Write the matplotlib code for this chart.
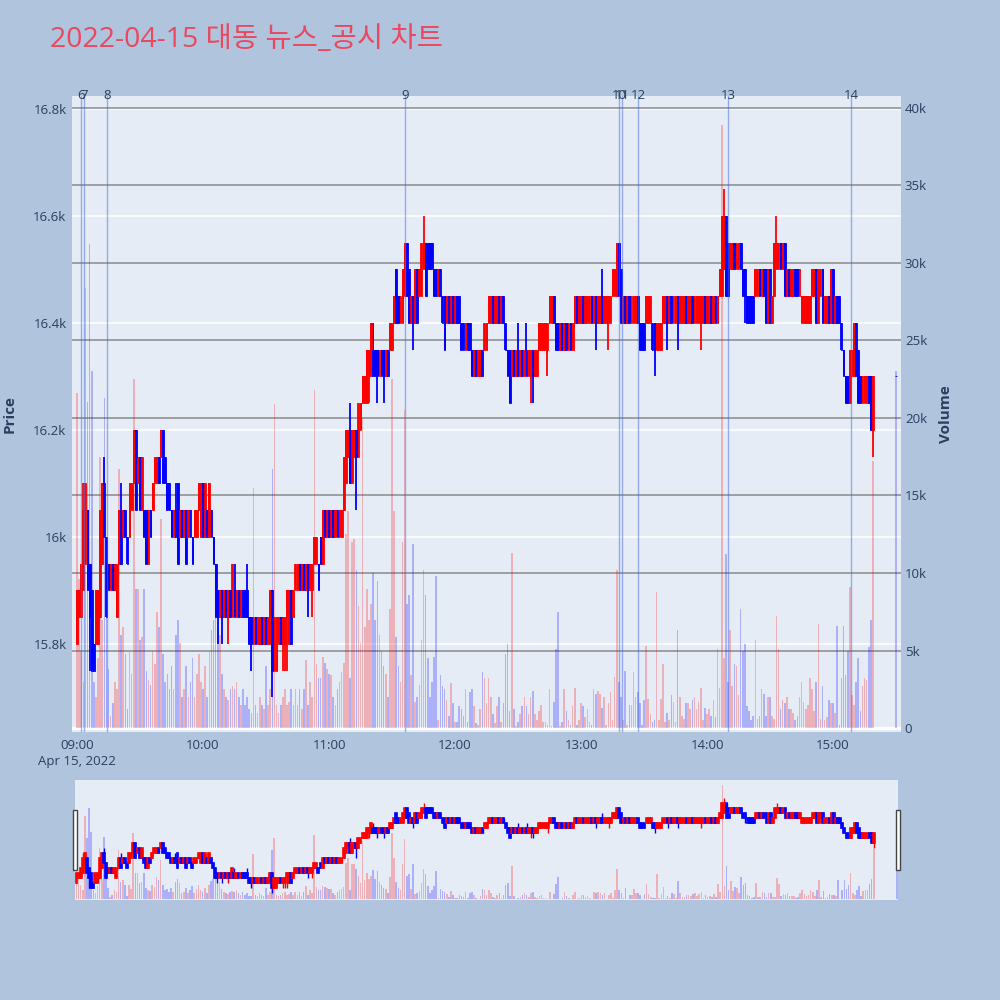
import numpy as np
import matplotlib
matplotlib.use("Agg")
import matplotlib.pyplot as plt
from matplotlib.patches import Rectangle
import matplotlib.transforms as mtransforms

# ---------------- data ----------------
title = "2022-04-15 대동 뉴스_공시 차트"
date_label = "Apr 15, 2022"
time_ticks = ["09:00", "10:00", "11:00", "12:00", "13:00", "14:00", "15:00"]
session_start = "09:00"
closing_auction_time = "15:30"

opens = [
    15800, 15850, 15850, 15900, 15950, 16050, 15950, 15900, 15800, 15800,
    15800, 15850, 15950, 16100, 16000, 15950, 15900, 15950, 15900, 15850,
    15950, 16050, 16000, 16050, 16000, 16000, 16050, 16100, 16200, 16100,
    16150, 16050, 16050, 16050, 15950, 16050, 16050, 16100, 16100, 16150,
    16150, 16200, 16150, 16100, 16100, 16050, 16000, 16050, 16100, 16000,
    16050, 16000, 16050, 16000, 16050, 16000, 16000, 16000, 16050, 16000,
    16100, 16000, 16050, 16000, 16050, 16000, 15950, 15900, 15850, 15900,
    15850, 15900, 15850, 15900, 15850, 15900, 15850, 15900, 15850, 15900,
    15900, 15900, 15850, 15850, 15800, 15850, 15800, 15800, 15850, 15800,
    15850, 15800, 15800, 15900, 15750, 15750, 15800, 15850, 15800, 15800,
    15850, 15800, 15900, 15850, 15900, 15900, 15950, 15900, 15950, 15900,
    15950, 15900, 15900, 15950, 15950, 15950, 16000, 15950, 16050, 16000,
    16050, 16000, 16050, 16000, 16050, 16000, 16000, 16050, 16100, 16150,
    16200, 16100, 16150, 16200, 16150, 16200, 16250, 16250, 16250, 16300,
    16300, 16350, 16350, 16350, 16300, 16350, 16350, 16300, 16350, 16350,
    16350, 16400, 16500, 16450, 16400, 16400, 16450, 16550, 16500, 16400,
    16450, 16400, 16500, 16450, 16450, 16500, 16550, 16550, 16550, 16550,
    16500, 16500, 16450, 16500, 16450, 16450, 16400, 16450, 16400, 16450,
    16400, 16450, 16450, 16400, 16400, 16350, 16400, 16400, 16350, 16300,
    16350, 16300, 16300, 16350, 16350, 16350, 16400, 16400, 16450, 16400,
    16400, 16450, 16400, 16450, 16400, 16350, 16350, 16300, 16350, 16300,
    16350, 16300, 16350, 16300, 16350, 16300, 16300, 16350, 16300, 16300,
    16350, 16350, 16350, 16350, 16350, 16400, 16400, 16450, 16400, 16400,
    16350, 16400, 16350, 16400, 16350, 16400, 16350, 16400, 16450, 16400,
    16400, 16450, 16400, 16400, 16400, 16450, 16400, 16450, 16400, 16400,
    16450, 16400, 16400, 16400, 16400, 16450, 16450, 16450, 16550, 16500,
    16400, 16450, 16400, 16450, 16400, 16400, 16400, 16450, 16400, 16400,
    16400, 16400, 16400, 16400, 16400, 16400, 16350, 16350, 16350, 16400,
    16400, 16450, 16400, 16450, 16400, 16400, 16450, 16400, 16400, 16400,
    16450, 16400, 16400, 16450, 16400, 16400, 16400, 16400, 16400, 16450,
    16400, 16400, 16450, 16400, 16450, 16400, 16450, 16450, 16500, 16600,
    16550, 16500, 16500, 16550, 16500, 16500, 16550, 16500, 16500, 16450,
    16450, 16450, 16450, 16450, 16450, 16500, 16450, 16500, 16500, 16400,
    16500, 16400, 16450, 16500, 16500, 16550, 16500, 16550, 16450, 16500,
    16450, 16450, 16500, 16500, 16450, 16400, 16400, 16400, 16400, 16400,
    16450, 16450, 16500, 16400, 16450, 16500, 16400, 16400, 16450, 16400,
    16500, 16400, 16450, 16450, 16400, 16350, 16300, 16300, 16250, 16300,
    16300, 16400, 16350, 16300, 16250, 16250, 16250, 16300, 16300, 16200,
    16300,
]
closes = [
    15900, 15900, 15950, 16050, 16100, 15900, 15850, 15750, 15750, 15900,
    15900, 16050, 16100, 16000, 15850, 15900, 15950, 15900, 15950, 15950,
    16050, 15950, 16050, 16000, 15950, 16100, 16100, 16200, 16050, 16150,
    16050, 16150, 16000, 15950, 16050, 16000, 16100, 16150, 16150, 16100,
    16200, 16100, 16100, 16050, 16050, 16000, 16050, 16000, 15950, 16050,
    16000, 16050, 15950, 16050, 16000, 15950, 16050, 16050, 16100, 16100,
    16000, 16100, 16000, 16100, 16000, 15950, 15850, 15850, 15900, 15850,
    15900, 15850, 15900, 15850, 15950, 15850, 15900, 15850, 15900, 15850,
    15850, 15850, 15800, 15800, 15850, 15800, 15850, 15850, 15800, 15850,
    15800, 15850, 15900, 15750, 15850, 15850, 15850, 15800, 15850, 15850,
    15900, 15900, 15800, 15900, 15950, 15950, 15900, 15950, 15900, 15950,
    15900, 15950, 15950, 16000, 16000, 15900, 15950, 16050, 16000, 16050,
    16000, 16050, 16000, 16050, 16000, 16050, 16050, 16150, 16200, 16200,
    16100, 16200, 16200, 16150, 16250, 16250, 16300, 16300, 16350, 16350,
    16400, 16300, 16300, 16300, 16350, 16300, 16300, 16350, 16300, 16400,
    16400, 16450, 16400, 16400, 16450, 16500, 16550, 16450, 16400, 16450,
    16400, 16500, 16400, 16500, 16550, 16550, 16450, 16500, 16500, 16500,
    16450, 16450, 16500, 16450, 16400, 16350, 16450, 16400, 16450, 16400,
    16450, 16400, 16400, 16350, 16350, 16400, 16350, 16350, 16300, 16350,
    16300, 16350, 16350, 16300, 16400, 16400, 16450, 16450, 16400, 16450,
    16450, 16400, 16450, 16400, 16350, 16300, 16250, 16350, 16300, 16350,
    16300, 16350, 16300, 16350, 16300, 16350, 16350, 16300, 16350, 16350,
    16400, 16400, 16400, 16400, 16400, 16450, 16450, 16400, 16350, 16350,
    16400, 16350, 16400, 16350, 16400, 16350, 16400, 16450, 16400, 16450,
    16450, 16400, 16450, 16450, 16450, 16400, 16450, 16400, 16450, 16450,
    16400, 16450, 16450, 16450, 16450, 16500, 16500, 16550, 16450, 16400,
    16450, 16400, 16450, 16400, 16450, 16450, 16450, 16400, 16350, 16350,
    16350, 16450, 16450, 16450, 16350, 16350, 16400, 16400, 16400, 16450,
    16450, 16400, 16450, 16400, 16450, 16450, 16400, 16450, 16450, 16450,
    16400, 16450, 16450, 16400, 16450, 16450, 16450, 16450, 16450, 16400,
    16450, 16450, 16400, 16450, 16400, 16450, 16500, 16600, 16600, 16450,
    16450, 16550, 16550, 16500, 16550, 16550, 16500, 16450, 16450, 16400,
    16400, 16400, 16400, 16500, 16500, 16450, 16500, 16450, 16400, 16500,
    16400, 16450, 16550, 16550, 16550, 16500, 16550, 16450, 16500, 16450,
    16500, 16500, 16450, 16450, 16500, 16450, 16450, 16450, 16450, 16450,
    16500, 16500, 16400, 16500, 16500, 16400, 16450, 16450, 16400, 16500,
    16400, 16450, 16400, 16400, 16350, 16300, 16250, 16250, 16350, 16350,
    16400, 16300, 16250, 16250, 16300, 16300, 16300, 16250, 16200, 16300,
    16300,
]
wick_high = {3: 16100, 13: 16150, 21: 16100, 47: 16100, 75: 15950, 81: 15950,
             130: 16250, 141: 16400, 165: 16600, 210: 16400, 214: 16400,
             250: 16500, 308: 16650, 333: 16600}
wick_low = {6: 15750, 67: 15800, 69: 15800, 72: 15800, 83: 15750, 93: 15700,
            98: 15750, 99: 15750, 100: 15750, 110: 15850, 112: 15850,
            133: 16050, 139: 16250, 143: 16250, 146: 16250, 160: 16350,
            216: 16250, 217: 16250, 224: 16300, 247: 16350, 253: 16350,
            275: 16300, 281: 16350, 286: 16350, 297: 16350, 318: 16400,
            379: 16150}
volumes = [
    21600, 9600, 5000, 3000, 28400, 21000, 31200, 23000, 3000, 2000,
    4500, 17500, 7000, 21300, 8500, 3800, 800, 1600, 3000, 2500,
    16700, 6000, 6500, 4800, 1200, 4900, 3500, 22500, 9000, 9000,
    5700, 5900, 9000, 3700, 3100, 2800, 5000, 4100, 7500, 6500,
    13500, 4800, 3000, 3500, 2500, 4000, 2500, 6000, 7000, 5500,
    2000, 2500, 4000, 2000, 3000, 4500, 2000, 3500, 4800, 3000,
    2500, 4000, 2000, 5000, 6300, 7000, 8500, 6500, 6000, 3500,
    2500, 2000, 1800, 2500, 2700, 2500, 3000, 2000, 1500, 2500,
    1500, 2000, 1200, 1000, 15500, 1500, 1000, 2000, 1500, 1200,
    4000, 1500, 2500, 16700, 20900, 1500, 1000, 1500, 2000, 2500,
    1500, 1700, 2500, 1500, 2500, 1500, 2500, 1200, 2500, 4400,
    1500, 3000, 2000, 21800, 4100, 3200, 3200, 4600, 4200, 3800,
    3500, 3400, 2000, 1500, 2500, 3000, 3600, 4200, 12500, 14000,
    3200, 12000, 12200, 10200, 7900, 5500, 20000, 6500, 9000, 7000,
    8000, 10000, 7000, 9500, 6000, 5000, 4000, 3500, 2000, 7700,
    22500, 14000, 5900, 4000, 3000, 12000, 20500, 8000, 8600, 3400,
    11900, 1700, 2000, 2800, 5700, 10200, 8600, 4500, 2000, 3000,
    4600, 9800, 500, 3400, 2700, 2500, 1800, 800, 2900, 1600,
    400, 400, 1400, 1200, 800, 2500, 400, 2300, 2500, 1400,
    300, 200, 1200, 3600, 3200, 1600, 3200, 2000, 900, 300,
    1400, 2000, 400, 1600, 4800, 5400, 1100, 11300, 1200, 100,
    400, 900, 1400, 2000, 1400, 900, 2000, 2400, 900, 500,
    1100, 1500, 400, 400, 200, 2500, 100, 1700, 5100, 7500,
    100, 400, 2500, 1100, 500, 200, 1400, 2600, 200, 500,
    1600, 1400, 700, 1200, 400, 200, 2500, 2200, 2400, 2200,
    1300, 2000, 200, 1600, 2300, 500, 3300, 10200, 3000, 2000,
    500, 3700, 200, 1500, 1500, 3600, 2000, 2300, 1600, 200,
    1800, 5300, 1900, 900, 400, 500, 8800, 500, 1900, 4100,
    400, 1000, 500, 2100, 1700, 400, 6300, 2000, 800, 600,
    1600, 1600, 1200, 1800, 2000, 1200, 1700, 2600, 500, 1300,
    900, 1200, 800, 1800, 700, 5100, 2600, 38900, 4500, 11200,
    3000, 6300, 2700, 4100, 4000, 2100, 7700, 5000, 5400, 1400,
    1100, 500, 800, 5700, 600, 800, 2500, 2200, 800, 2000,
    2000, 800, 600, 7200, 5100, 1200, 1800, 1600, 2000, 1200,
    1200, 1000, 500, 800, 2000, 3000, 1700, 1200, 1500, 3200,
    2500, 1100, 3000, 6700, 600, 2700, 500, 700, 1800, 1600,
    1600, 1000, 6600, 200, 3200, 6600, 3400, 5000, 9100, 2100,
    1500, 3000, 4500, 1100, 2700, 3200, 3100, 5200, 7000, 17200,
    23000,
]
news_ids = ["6", "7", "8", "9", "10", "11", "12", "13", "14"]
news_times = ["09:01:54", "09:03:30", "09:14:24", "11:36:18", "13:18:06",
              "13:19:30", "13:27:06", "14:10:06", "15:08:42"]

price_ticks = [15800, 16000, 16200, 16400, 16600, 16800]
price_tick_labels = ["15.8k", "16k", "16.2k", "16.4k", "16.6k", "16.8k"]
volume_ticks = [0, 5000, 10000, 15000, 20000, 25000, 30000, 35000, 40000]
volume_tick_labels = ["0", "5k", "10k", "15k", "20k", "25k", "30k", "35k", "40k"]


# ---------------- helpers ----------------
def to_min(t):
    parts = [int(p) for p in t.split(":")]
    while len(parts) < 3:
        parts.append(0)
    h0, m0 = [int(p) for p in session_start.split(":")]
    return (parts[0] - h0) * 60 + (parts[1] - m0) + parts[2] / 60.0


n_cont = len(opens) - 1
x = np.array(list(range(n_cont)) + [to_min(closing_auction_time)], dtype=float)
o = np.array(opens, dtype=float)
c = np.array(closes, dtype=float)
hi = np.maximum(o, c)
lo = np.minimum(o, c)
for k, v in wick_high.items():
    hi[k] = max(hi[k], v)
for k, v in wick_low.items():
    lo[k] = min(lo[k], v)
vol = np.array(volumes, dtype=float)
up = c > o
RED, BLUE = "#ff0000", "#0000ff"
cols = np.where(up, RED, BLUE)

TXT = "#2a3f5f"
BG = "#b0c4de"
PBG = "#e5ecf6"
FONT = ["Open Sans", "DejaVu Sans"]
plt.rcParams["font.family"] = FONT

W, H = 1000, 1000
fig = plt.figure(figsize=(10, 10), dpi=100, facecolor=BG)


def rect(l, t, r, b):
    return [l / W, 1 - b / H, (r - l) / W, (b - t) / H]


XLIM = (-2.4, 392.2)
PLIM = (15635.5, 16824.0)
VLIM = (-258, 40774)

# ---- main: volume axes (bottom layer) ----
axv = fig.add_axes(rect(72, 96, 900.7, 732))
axv.set_facecolor(PBG)
axv.set_xlim(*XLIM)
axv.set_ylim(*VLIM)
axp = fig.add_axes(rect(72, 96, 900.7, 732), sharex=axv)
axp.set_facecolor("none")
axp.set_ylim(*PLIM)

# price gridlines (white) drawn underneath everything
tr = mtransforms.blended_transform_factory(axv.transAxes, axp.transData)
for pt in price_ticks:
    axv.plot([0, 1], [pt, pt], transform=tr, color="white", lw=1.1, zorder=0.5)
# volume gridlines (grey), zero line white
for vt in volume_ticks:
    if vt == 0:
        axv.axhline(vt, color="white", lw=2.2, zorder=0.7)
    else:
        axv.axhline(vt, color="#8a8a8a", lw=1.1, zorder=0.6)

axv.bar(x, vol, width=0.75, color=cols, alpha=0.25, linewidth=0, zorder=1)

axp.vlines(x, lo, hi, colors=cols, lw=1.3, zorder=3)
axp.bar(x, c - o, bottom=o, width=0.85, color=cols, edgecolor=cols,
        linewidth=0.6, zorder=3)

for nid, nt in zip(news_ids, news_times):
    xm = to_min(nt)
    axp.axvline(xm, color="royalblue", alpha=0.5, lw=1.0, zorder=4)
    axp.text(xm, PLIM[1] + 1, nid, ha="center", va="center", fontsize=9.5,
             color=TXT, zorder=5, clip_on=False)

for a in (axv, axp):
    for s in a.spines.values():
        s.set_visible(False)

axv.yaxis.tick_right()
axv.set_yticks(volume_ticks)
axv.set_yticklabels(volume_tick_labels)
axv.tick_params(axis="y", length=0, pad=3, labelsize=9.5, labelcolor=TXT)
axv.set_xticks([i * 60 for i in range(len(time_ticks))])
xl = list(time_ticks)
xl[0] = xl[0] + "\n" + date_label
axv.set_xticklabels(xl, linespacing=1.35)
axv.tick_params(axis="x", length=0, pad=5, labelsize=9.5, labelcolor=TXT)

axp.set_yticks(price_ticks)
axp.set_yticklabels(price_tick_labels)
axp.tick_params(axis="y", length=0, pad=4, labelsize=9.5, labelcolor=TXT)
axp.tick_params(axis="x", length=0, labelbottom=False)

fig.text(10 / W, 1 - 414 / H, "Price", rotation=90, ha="center", va="center",
         fontsize=11, fontweight="bold", color=TXT)
fig.text(946 / W, 1 - 414 / H, "Volume", rotation=90, ha="center", va="center",
         fontsize=11, fontweight="bold", color=TXT)

fig.text(50 / W, 1 - 40 / H, title, ha="left", va="center", fontsize=20.5,
         color="#e8495f", family=["Open Sans", "Noto Sans CJK KR"])

# ---- range slider ----
SXLIM = (-0.7, 390.5)
asv = fig.add_axes(rect(75, 780, 898, 900))
asv.set_facecolor(PBG)
asv.set_xlim(*SXLIM)
asv.set_ylim(*VLIM)
asp = fig.add_axes(rect(75, 780, 898, 900), sharex=asv)
asp.set_facecolor("none")
asp.set_ylim(*PLIM)
asv.bar(x, vol, width=0.75, color=cols, alpha=0.25, linewidth=0, zorder=1)
asp.vlines(x, lo, hi, colors=cols, lw=1.0, zorder=3)
asp.bar(x, c - o, bottom=o, width=0.9, color=cols, edgecolor=cols,
        linewidth=1.2, zorder=3)
for a in (asv, asp):
    a.set_xticks([])
    a.set_yticks([])
    for s in a.spines.values():
        s.set_visible(False)

for hx in (75, 898):
    fig.patches.append(Rectangle(((hx - 2.3) / W, 1 - 870 / H), 4.6 / W, 60 / H,
                                 transform=fig.transFigure, facecolor="white",
                                 edgecolor="#444444", lw=1.0, zorder=10))

fig.savefig("out.png", dpi=100, facecolor=BG)
